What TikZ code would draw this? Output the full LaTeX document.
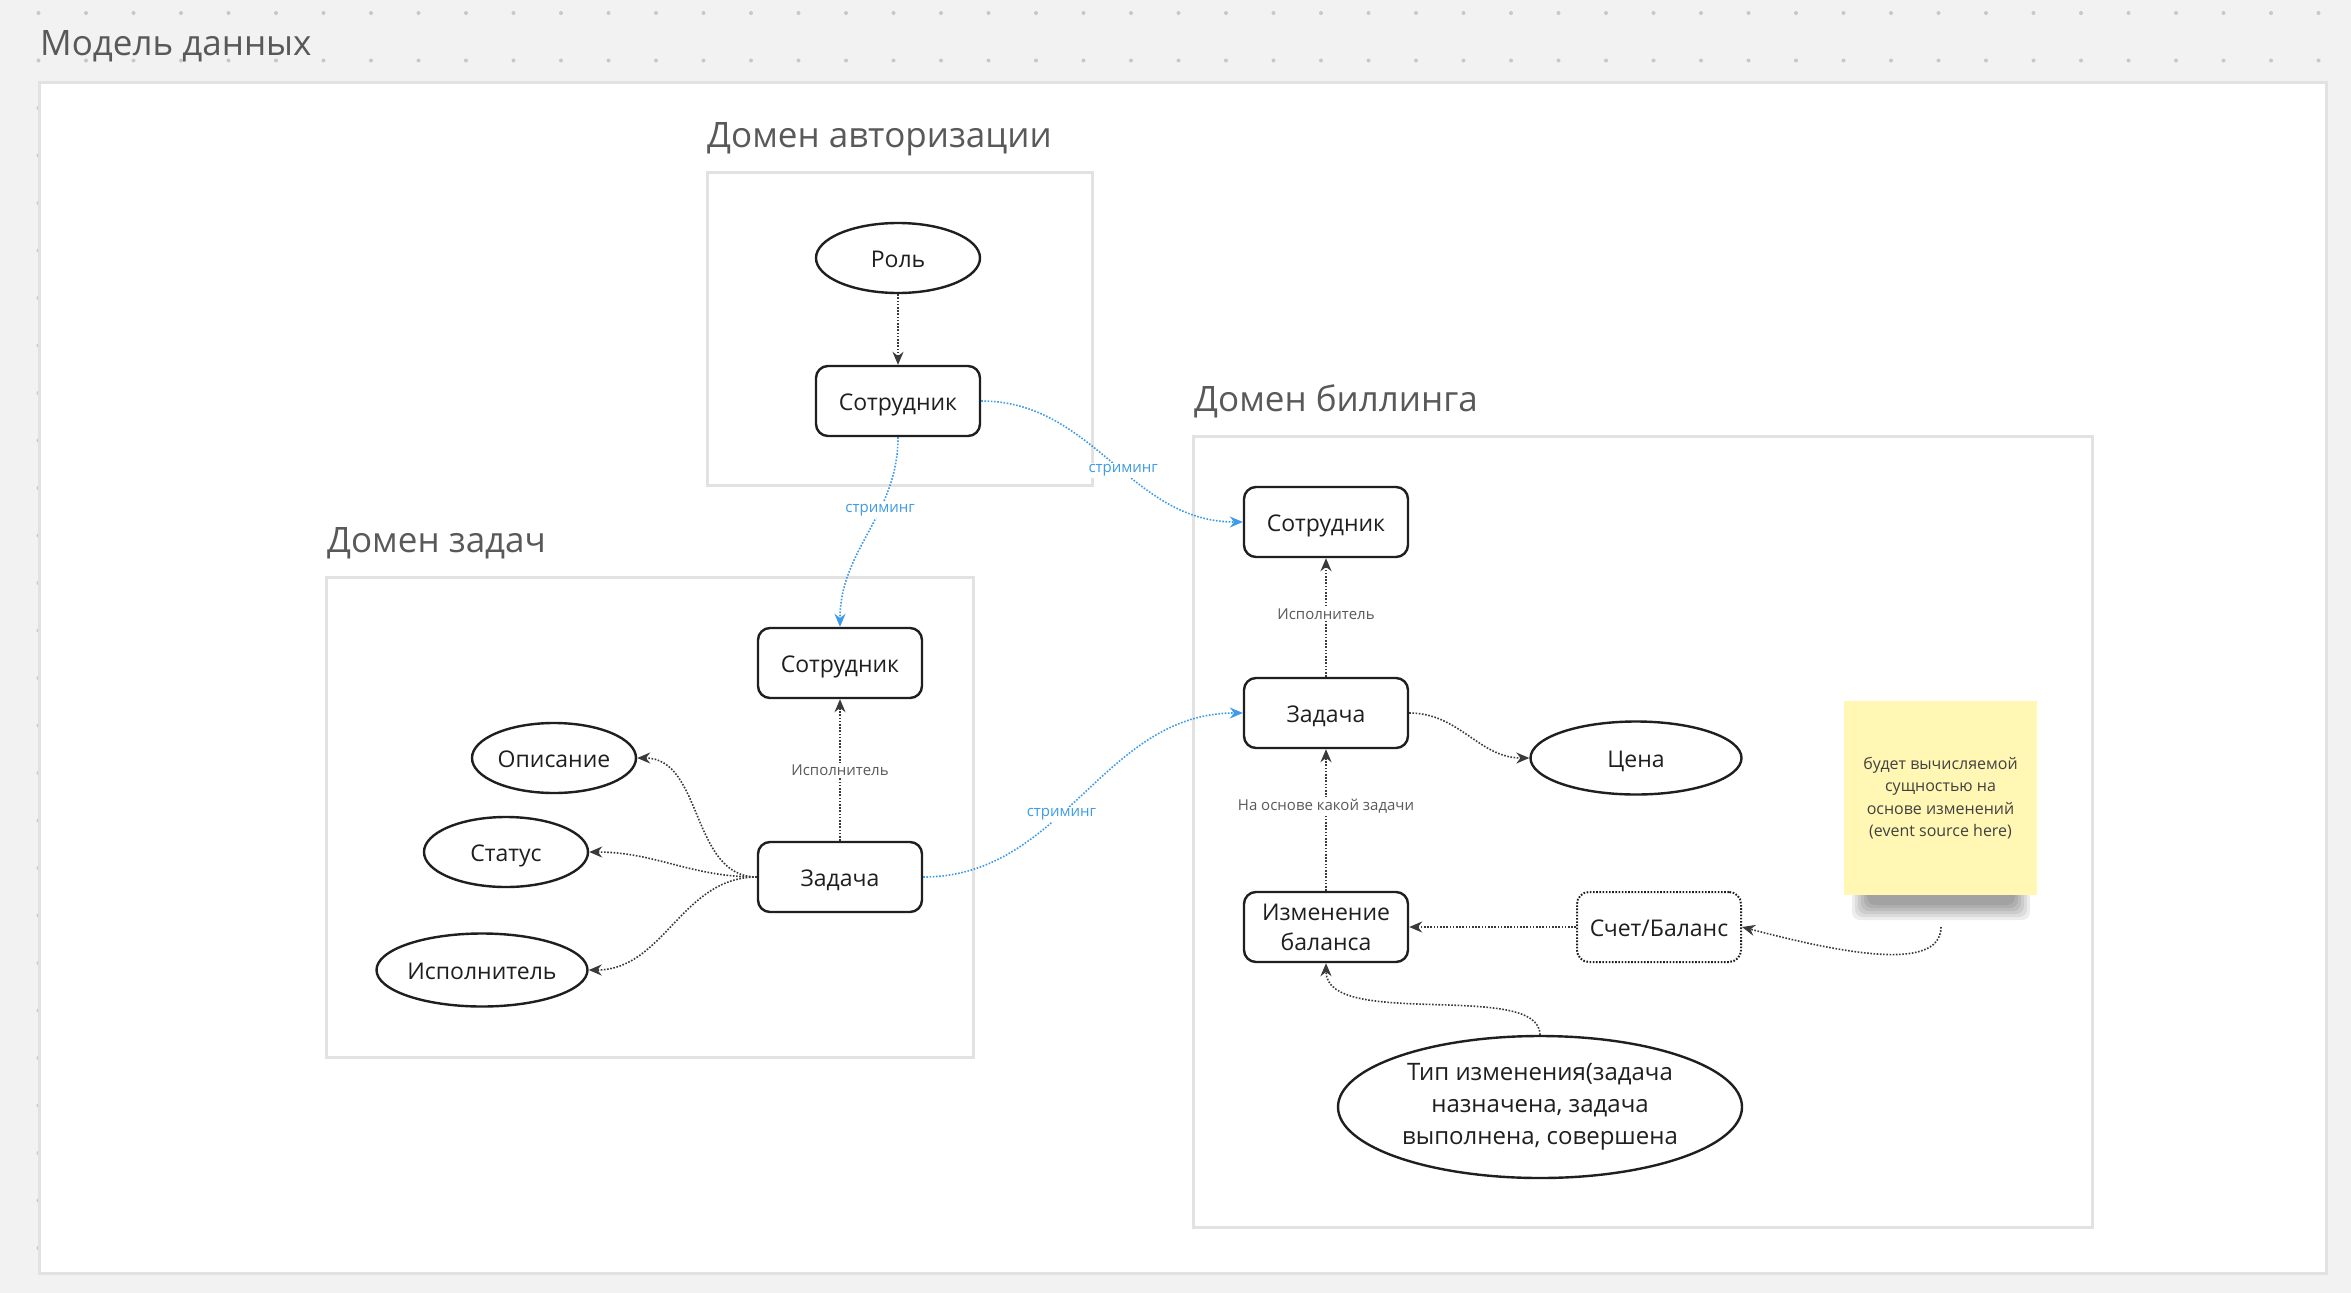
\documentclass[tikz,border=0pt]{standalone}
\usepackage{fontspec}
\setmainfont{Open Sans}
\usetikzlibrary{arrows.meta,shapes.geometric}
\definecolor{bggrey}{HTML}{F2F2F2}
\definecolor{dotgrey}{HTML}{C8C8C8}
\definecolor{framegrey}{HTML}{E2E2E2}
\definecolor{inkgrey}{HTML}{1F1F1F}
\definecolor{titlegrey}{HTML}{595959}
\definecolor{linkgrey}{HTML}{3A3A3A}
\definecolor{streamblue}{HTML}{3D9BE9}
\definecolor{noteyellow}{HTML}{FFF7B3}

\begin{document}
\begin{tikzpicture}[x=1pt,y=-1pt,
   entity/.style={draw=inkgrey,line width=2.4pt,rounded corners=12pt,fill=white,
     minimum width=164pt,minimum height=70pt,inner sep=0pt,text=inkgrey,
     font=\fontsize{23}{30}\selectfont,align=center,text height=18pt,text depth=0pt},
   attr/.style={entity,ellipse,rounded corners=0pt},
   domainbox/.style={draw=framegrey,line width=3pt,fill=white},
   domaintitle/.style={anchor=base west,inner sep=0pt,text=titlegrey,
     font=\fontsize{35}{42}\selectfont},
   link/.style={draw=linkgrey,line width=1.6pt,dash pattern=on 1.6pt off 1.6pt,
     -{Stealth[length=13pt,width=11pt]}},
   stream/.style={link,draw=streamblue},
   linklabel/.style={fill=white,inner sep=2pt,text=titlegrey,
     font=\fontsize{15}{18}\selectfont},
   streamlabel/.style={linklabel,text=streamblue},
   note/.style={fill=noteyellow,minimum width=193pt,minimum height=194pt,
     inner sep=0pt,text=inkgrey!85,align=center,font=\fontsize{16}{22.5}\selectfont}]
   \useasboundingbox (0,0) rectangle (2351,1293);
   % background with dots
   \fill[bggrey] (0,0) rectangle (2351,1293);
   \foreach \i in {0,...,48}
     \foreach \j in {0,...,27}
       \fill[dotgrey] ({38.5+47.5*\i},{13+47.5*\j}) circle (2pt);
   \draw[domainbox] (39,82) rectangle (2326,1273);
   \node[domaintitle] (maintitle) at (40,55) {Модель данных};
   % domains
   \draw[domainbox] (707,172) rectangle (1092,485);
   \node[domaintitle] (authtitle) at (707,147) {Домен авторизации};
   \draw[domainbox] (326,577) rectangle (973,1057);
   \node[domaintitle] (tasktitle) at (327,552) {Домен задач};
   \draw[domainbox] (1193,436) rectangle (2092,1227);
   \node[domaintitle] (billtitle) at (1194,411) {Домен биллинга};
   % auth
   \node[attr] (role) at (898,258) {Роль};
   \node[entity] (authemp) at (898,401) {Сотрудник};
   % tasks
   \node[entity] (taskemp) at (840,663) {Сотрудник};
   \node[entity] (task) at (840,877) {Задача};
   \node[attr] (descr) at (554,758) {Описание};
   \node[attr] (status) at (506,852) {Статус};
   \node[attr,minimum width=211pt,minimum height=73pt] (assignee) at (482,970) {Исполнитель};
   % billing
   \node[entity] (billemp) at (1326,522) {Сотрудник};
   \node[entity] (billtask) at (1326,713) {Задача};
   \node[attr,minimum width=211pt,minimum height=73pt] (price) at (1636,758) {Цена};
   \node[entity,text height=,text depth=] (change) at (1326,927) {Изменение\\баланса};
   \node[entity,line width=2pt,dash pattern=on 1.6pt off 1.6pt] (account) at (1659,927) {Счет/Баланс};
   \node[attr,minimum width=404pt,minimum height=142pt,text height=,text depth=,
     font=\fontsize{24}{32}\selectfont]
     (changetype) at (1540,1107) {Тип изменения(задача\\назначена, задача\\выполнена, совершена};
   % sticky note
   \foreach \k in {0,...,5}
     \fill[black,opacity=0.07,rounded corners=8pt] ({1852+3*\k},880) rectangle ({2030-3*\k},{920-3*\k});
   \node[note] (note) at (1940.5,798) {будет вычисляемой\\сущностью на\\основе изменений\\(event source here)};
   \coordinate (notefoot) at (1941,927);
   % links
   \draw[link] (role) -- (authemp);
   \draw[link] (task) -- node[linklabel] {Исполнитель} (taskemp);
   \draw[link] (task.west) to[out=180,in=0] (descr.east);
   \draw[link] (task.west) to[out=180,in=0] (status.east);
   \draw[link] (task.west) to[out=180,in=0] (assignee.east);
   \draw[link] (billtask) -- node[linklabel,pos=0.53] {Исполнитель} (billemp);
   \draw[link] (change) -- node[linklabel,pos=0.6] {На основе какой задачи} (billtask);
   \draw[link] (billtask.east) to[out=0,in=180] (price.west);
   \draw[link] (account) -- (change);
   \draw[link] (notefoot) .. controls (1941,975) and (1830,950) .. (account.east);
   \draw[link] (changetype.north) .. controls (1540,980) and (1326,1030) .. (change.south);
   % streaming
   \draw[stream] (authemp.south) to[out=-90,in=90] node[streamlabel,pos=0.37] {стриминг} (taskemp.north);
   \draw[stream] (authemp.east) to[out=0,in=180] node[streamlabel,pos=0.55] {стриминг} (billemp.west);
   \draw[stream] (task.east) to[out=0,in=180] node[streamlabel,pos=0.42] {стриминг} (billtask.west);
\end{tikzpicture}
\end{document}
